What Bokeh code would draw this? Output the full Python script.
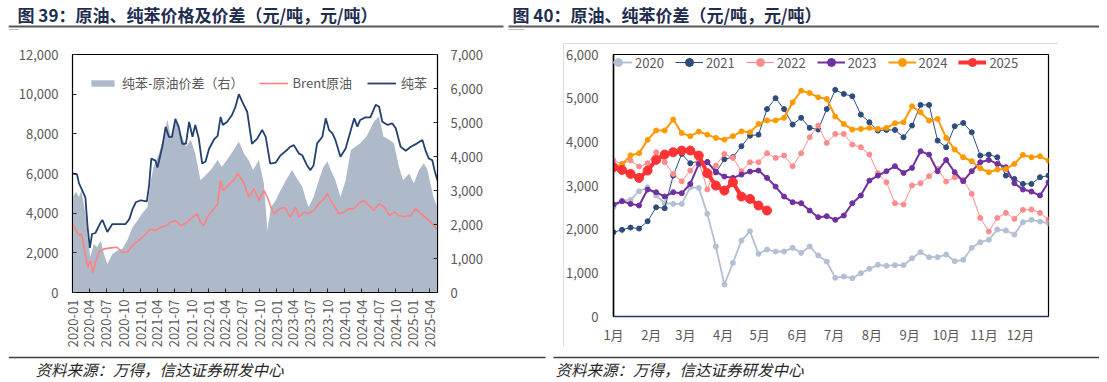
import math
import pandas as pd
from bokeh.plotting import figure
from bokeh.models import (Range1d, LinearAxis, FixedTicker, NumeralTickFormatter,
                          DatetimeTickFormatter, Legend, LegendItem, CustomJSTickFormatter, Spacer)
from bokeh.layouts import column, row
from bokeh.core.properties import value
from bokeh.embed import file_html
from bokeh.resources import INLINE

FONT = "Noto Sans CJK SC"
GREY = "#595959"
TITLE_COLOR = "#1F2D4F"

# ---------------- Left chart data ----------------
bz_dates = ["2020-01-02", "2020-01-25", "2020-02-05", "2020-02-15", "2020-03-10", "2020-03-22", "2020-04-03",
            "2020-04-15", "2020-05-03", "2020-06-01", "2020-06-10", "2020-07-06", "2020-08-02", "2020-10-12",
            "2020-11-01", "2020-11-18", "2020-12-06", "2021-01-01", "2021-02-03", "2021-02-15", "2021-02-27",
            "2021-03-21", "2021-04-01", "2021-04-27", "2021-05-15", "2021-06-01", "2021-06-18", "2021-07-06",
            "2021-07-24", "2021-08-12", "2021-09-01", "2021-09-18", "2021-10-06", "2021-10-21", "2021-11-09",
            "2021-11-27", "2021-12-15", "2022-01-03", "2022-02-01", "2022-02-18", "2022-03-06", "2022-03-18",
            "2022-04-09", "2022-05-06", "2022-05-24", "2022-06-12", "2022-07-01", "2022-07-27", "2022-08-21",
            "2022-09-18", "2022-10-15", "2022-11-03", "2022-11-27", "2022-12-27", "2023-01-20", "2023-02-27",
            "2023-03-15", "2023-04-03", "2023-05-01", "2023-05-18", "2023-06-12", "2023-07-01", "2023-07-18",
            "2023-08-06", "2023-09-03", "2023-09-21", "2023-10-09", "2023-10-27", "2023-11-12", "2023-12-09",
            "2024-01-06", "2024-02-03", "2024-02-21", "2024-03-09", "2024-03-24", "2024-04-21", "2024-05-18",
            "2024-06-15", "2024-07-03", "2024-07-21", "2024-08-18", "2024-09-12", "2024-10-01", "2024-10-27",
            "2024-11-24", "2024-12-21", "2025-01-24", "2025-02-21", "2025-03-09", "2025-03-27", "2025-04-15",
            "2025-04-27", "2025-05-12"]
bz_vals = [6000, 5950, 5500, 5300, 4800, 3300, 2250, 2950, 3000, 3550, 3650, 3050, 3450, 3450, 3700, 4200, 4550,
           4650, 4600, 5400, 6750, 6650, 6300, 7350, 8350, 7850, 7850, 8750, 8350, 7500, 7500, 8600, 7850, 8450,
           7750, 6500, 6600, 7250, 7750, 7900, 8850, 8450, 8600, 8950, 9350, 10000, 9600, 9100, 7500, 7750, 8200,
           7850, 6500, 6550, 6900, 7200, 7350, 7430, 7000, 6920, 6420, 6170, 6420, 7520, 7850, 8780, 8190, 8020,
           7690, 6840, 7260, 8190, 8780, 8360, 8700, 8830, 8830, 9460, 9380, 8610, 8450, 8530, 8280, 7350, 7150,
           7350, 7520, 7690, 7180, 6760, 6670, 6170, 5660]

br_dates = ["2020-01-02", "2020-01-20", "2020-02-07", "2020-02-18", "2020-03-10", "2020-03-23", "2020-04-06",
            "2020-04-20", "2020-05-03", "2020-05-21", "2020-06-18", "2020-07-24", "2020-08-27", "2020-09-24",
            "2020-10-21", "2020-11-09", "2020-12-06", "2021-01-01", "2021-01-27", "2021-02-24", "2021-03-21",
            "2021-04-18", "2021-05-15", "2021-06-12", "2021-07-06", "2021-08-03", "2021-09-09", "2021-10-06",
            "2021-11-01", "2021-11-18", "2021-12-06", "2021-12-24", "2022-01-21", "2022-02-18", "2022-03-06",
            "2022-03-18", "2022-04-09", "2022-04-24", "2022-05-15", "2022-06-06", "2022-07-01", "2022-07-15",
            "2022-08-03", "2022-09-01", "2022-09-27", "2022-10-24", "2022-11-12", "2022-12-01", "2022-12-18",
            "2023-01-15", "2023-02-12", "2023-03-15", "2023-04-12", "2023-05-01", "2023-05-27", "2023-06-21",
            "2023-07-18", "2023-08-15", "2023-09-12", "2023-10-01", "2023-10-18", "2023-11-03", "2023-12-01",
            "2023-12-27", "2024-01-24", "2024-02-21", "2024-03-15", "2024-04-12", "2024-05-09", "2024-06-06",
            "2024-07-03", "2024-08-01", "2024-08-27", "2024-09-24", "2024-10-18", "2024-11-15", "2024-12-21",
            "2025-01-15", "2025-02-12", "2025-03-09", "2025-03-27", "2025-04-15", "2025-05-12"]
br_vals = [3460, 3120, 2870, 2950, 1940, 1260, 1600, 1010, 1520, 2030, 2200, 2250, 2280, 2030, 2030, 2280, 2530,
           2700, 2950, 3200, 3120, 3290, 3370, 3540, 3630, 3370, 3540, 3800, 3970, 3540, 3370, 3800, 4140, 4480,
           5650, 5150, 5320, 5490, 5650, 6000, 5650, 5320, 4810, 5230, 4640, 5150, 4810, 4300, 3970, 4220, 4300,
           3800, 4300, 3800, 4050, 3970, 4140, 4480, 4730, 4980, 4640, 4390, 3970, 4050, 4220, 4220, 4480, 4640,
           4390, 4140, 4480, 4300, 3880, 4050, 3880, 3830, 3880, 4220, 3970, 3800, 3630, 3460, 3200]

sp_dates = ["2020-01-02", "2020-01-20", "2020-02-05", "2020-02-18", "2020-03-10", "2020-03-24", "2020-04-06",
            "2020-04-24", "2020-05-12", "2020-06-01", "2020-06-18", "2020-07-06", "2020-08-02", "2020-08-27",
            "2020-09-24", "2020-10-21", "2020-11-18", "2020-12-15", "2021-01-09", "2021-02-06", "2021-02-24",
            "2021-03-12", "2021-04-09", "2021-05-06", "2021-05-24", "2021-06-12", "2021-07-06", "2021-08-03",
            "2021-09-01", "2021-09-27", "2021-10-21", "2021-11-18", "2021-12-06", "2022-01-12", "2022-02-18",
            "2022-03-12", "2022-04-09", "2022-05-15", "2022-06-12", "2022-07-09", "2022-08-03", "2022-08-27",
            "2022-09-27", "2022-10-24", "2022-11-12", "2022-12-01", "2022-12-27", "2023-01-21", "2023-02-20",
            "2023-03-24", "2023-04-15", "2023-05-18", "2023-06-03", "2023-06-21", "2023-07-18", "2023-08-15",
            "2023-09-09", "2023-10-01", "2023-10-18", "2023-11-12", "2023-12-09", "2024-01-06", "2024-02-03",
            "2024-02-27", "2024-03-24", "2024-04-27", "2024-06-06", "2024-07-03", "2024-07-27", "2024-08-27",
            "2024-09-21", "2024-10-18", "2024-11-09", "2024-12-12", "2025-01-06", "2025-02-03", "2025-03-01",
            "2025-03-20", "2025-04-21", "2025-05-12"]
sp_vals = [2810, 2960, 2810, 3010, 2320, 1530, 1040, 1430, 1330, 1530, 1130, 840, 1130, 1230, 1280, 1530, 1920,
           2120, 2320, 2510, 3300, 3700, 4090, 4590, 5080, 4590, 5080, 4680, 4290, 4490, 4090, 3300, 3400, 3600,
           3900, 3700, 3900, 4190, 4440, 4090, 3900, 3600, 3900, 3210, 1820, 2510, 2710, 3000, 3300, 3600, 3400,
           3110, 2810, 2510, 2810, 3300, 3700, 3850, 3600, 3300, 2810, 3300, 4190, 4290, 4390, 4590, 5030, 5180,
           4590, 4490, 4390, 3700, 3300, 3500, 3210, 3600, 3800, 3600, 2810, 2510]

left_labels = ["纯苯-原油价差（右）", "Brent原油", "纯苯"]

# ---------------- Right chart data ----------------
weeks = list(range(1, 53))
years = ["2020", "2021", "2022", "2023", "2024", "2025"]
y2020 = [2503, 2655, 2670, 2869, 2960, 2770, 2594, 2579, 2579, 2960, 2945, 2350, 1602, 732, 1228, 1740, 1953,
         1434, 1534, 1488, 1488, 1572, 1457, 1602, 1396, 1259, 885, 916, 877, 992, 1091, 1183, 1160, 1175, 1175,
         1335, 1473, 1358, 1358, 1419, 1267, 1297, 1572, 1701, 1755, 1991, 1969, 1877, 2159, 2213, 2175, 2136]
y2021 = [1930, 1984, 2037, 2014, 2182, 2500, 2480, 3227, 3723, 3510, 3556, 3540, 3300, 3600, 3650, 3900, 4140,
         4165, 4750, 5000, 4750, 4395, 4550, 4320, 4280, 4750, 5190, 5097, 5043, 4624, 4448, 4258, 4273, 4273,
         4105, 4372, 4845, 4845, 4028, 3876, 4357, 4433, 4219, 3685, 3708, 3647, 3227, 3151, 3037, 3037, 3189, 3227]
y2022 = [3571, 3495, 3571, 3434, 3510, 3762, 3533, 3266, 3098, 3342, 3556, 2907, 3456, 3723, 3632, 3327, 3533,
         3533, 3739, 3632, 3685, 3441, 3739, 4105, 4372, 3975, 4181, 4181, 3937, 3876, 3708, 3281, 3075, 2594,
         2564, 2999, 3052, 3212, 3380, 3090, 3189, 3128, 2808, 2258, 1946, 2258, 2373, 2236, 2442, 2449, 2373, 2220]
y2023 = [2564, 2640, 2579, 2541, 2907, 2846, 2747, 2846, 2823, 3037, 3495, 3533, 3319, 3205, 3174, 3250, 3319,
         3342, 3174, 2976, 2747, 2617, 2594, 2426, 2274, 2297, 2213, 2312, 2594, 2770, 3113, 3227, 3327, 3441,
         3289, 3403, 3785, 3708, 3327, 3586, 3304, 3098, 3327, 3533, 3586, 3495, 3418, 3052, 2907, 2861, 2770, 3075]
y2024 = [3420, 3480, 3690, 3740, 4045, 4260, 4260, 4510, 4200, 4130, 4235, 4165, 4090, 4050, 4130, 4240, 4220,
         4410, 4490, 4490, 4550, 4905, 5170, 5120, 5020, 4980, 4580, 4410, 4280, 4296, 4319, 4296, 4319, 4425,
         4448, 4815, 4677, 4486, 4525, 4090, 3823, 3647, 3556, 3395, 3304, 3365, 3380, 3495, 3700, 3647, 3670, 3571]
y2025 = [3418, 3357, 3266, 3174, 3342, 3586, 3708, 3762, 3800, 3800, 3685, 3281, 2999, 2884, 3075, 2747, 2693,
         2541, 2426]
month_labels = ["1月", "2月", "3月", "4月", "5月", "6月", "7月", "8月", "9月", "10月", "11月", "12月"]

# ================= Left chart =================
L = figure(frame_width=365, frame_height=238, x_axis_type="datetime",
           x_range=Range1d(pd.Timestamp("2020-01-01"), pd.Timestamp("2025-05-13")),
           y_range=Range1d(0, 12000), output_backend="svg", toolbar_location=None,
           min_border_left=64, min_border_right=113, min_border_top=11, min_border_bottom=58)
L.extra_y_ranges = {"right": Range1d(0, 7000)}
L.grid.visible = False
L.outline_line_color = "black"
L.outline_line_width = 1.2

area = L.varea(x=pd.to_datetime(sp_dates), y1=0, y2=sp_vals, y_range_name="right",
               fill_color="#AEB9CA", fill_alpha=1)
brent = L.line(pd.to_datetime(br_dates), br_vals, line_color="#FF8080", line_width=1.6)
bz = L.line(pd.to_datetime(bz_dates), bz_vals, line_color="#24406E", line_width=1.8)

qticks = [int(t.value // 10**6) for t in pd.date_range("2020-01-01", "2025-04-01", freq="QS")]
xa = L.xaxis[0]
xa.ticker = FixedTicker(ticks=qticks)
xa.formatter = DatetimeTickFormatter(days="%Y-%m", months="%Y-%m", years="%Y-%m",
                                     hours="%Y-%m", minutes="%Y-%m", seconds="%Y-%m",
                                     milliseconds="%Y-%m", microseconds="%Y-%m", hourmin="%Y-%m",
                                     minsec="%Y-%m")
xa.major_label_orientation = math.pi / 2
xa.major_label_standoff = 7
xa.axis_line_color = "black"

ya = L.yaxis[0]
ya.ticker = FixedTicker(ticks=list(range(0, 12001, 2000)))
ya.formatter = NumeralTickFormatter(format="0,0")
ya.major_label_standoff = 14
ya.axis_line_color = "black"

ra = LinearAxis(y_range_name="right", ticker=FixedTicker(ticks=list(range(0, 7001, 1000))),
                formatter=NumeralTickFormatter(format="0,0"))
ra.major_label_standoff = 13
ra.axis_line_color = "black"
L.add_layout(ra, "right")

for ax in [xa, ya, ra]:
    ax.major_tick_in = 4
    ax.major_tick_out = 0
    ax.minor_tick_line_color = None
    ax.major_tick_line_color = "#262626"
    ax.major_label_text_font = FONT
    ax.major_label_text_font_size = "13px"
    ax.major_label_text_color = GREY

legL = Legend(items=[LegendItem(label=left_labels[0], renderers=[area]),
                     LegendItem(label=left_labels[1], renderers=[brent]),
                     LegendItem(label=left_labels[2], renderers=[bz])],
              orientation="horizontal", location=(16, 200), glyph_width=29, glyph_height=8,
              label_standoff=5, spacing=15, padding=0, margin=0, label_height=14,
              label_text_font=FONT, label_text_font_size="13px", label_text_color=GREY,
              border_line_color=None, background_fill_alpha=0)
L.add_layout(legL)

# ================= Right chart =================
R = figure(frame_width=435, frame_height=262, x_range=Range1d(1, 52), y_range=Range1d(0, 6000),
           output_backend="svg", toolbar_location=None,
           min_border_left=49, min_border_right=10, min_border_top=11, min_border_bottom=24)
R.grid.visible = False
R.outline_line_color = "black"
R.outline_line_width = 1.2
R.styles = {"outline": "1px solid #D0D0D0", "outline-offset": "-1px"}

series = [y2020, y2021, y2022, y2023, y2024, y2025]
colors = ["#B3C0D3", "#2E4C7C", "#FF8C8C", "#7030A0", "#FF9900", "#FF3333"]
widths = [1.8, 1.0, 1.0, 2.0, 2.0, 4.0]
sizes = [5, 5, 5, 5, 5, 9]
items = []
for name, vals, c, w, s in zip(years, series, colors, widths, sizes):
    xs = weeks[:len(vals)]
    ln = R.line(xs, vals, line_color=c, line_width=w)
    sc = R.scatter(xs, vals, size=s, fill_color=c, line_color=c, marker="circle")
    items.append(LegendItem(label=name, renderers=[ln, sc]))

month_pos = [1 + (pd.Timestamp(2021, m, 1).dayofyear - 1) / 7 for m in range(1, 13)]
rx = R.xaxis[0]
rx.ticker = FixedTicker(ticks=month_pos)
rx.formatter = CustomJSTickFormatter(args=dict(labels=month_labels), code="return labels[index] ?? '';")
rx.major_label_standoff = 8
rx.axis_line_color = "#1F3864"
rx.axis_line_width = 1.5

ry = R.yaxis[0]
ry.ticker = FixedTicker(ticks=list(range(0, 6001, 1000)))
ry.formatter = NumeralTickFormatter(format="0,0")
ry.major_label_standoff = 15
ry.axis_line_color = "black"
ry.axis_line_width = 1.5

for ax in [rx, ry]:
    ax.major_tick_in = 0
    ax.major_tick_out = 0
    ax.minor_tick_line_color = None
    ax.major_label_text_font = FONT
    ax.major_label_text_font_size = "13px"
    ax.major_label_text_color = GREY

legR = Legend(items=items, orientation="horizontal", location=(-9, 244), glyph_width=28,
              label_standoff=3, spacing=11, padding=0, margin=0, label_height=14,
              label_text_font=FONT, label_text_font_size="13px", label_text_color=GREY,
              border_line_color=None, background_fill_alpha=0)
R.add_layout(legR)

# ================= Header / Footer =================
titles = ["图 39：原油、纯苯价格及价差（元/吨，元/吨）", "图 40：原油、纯苯价差（元/吨，元/吨）"]
sources = ["资料来源：万得，信达证券研发中心", "资料来源：万得，信达证券研发中心"]

H = figure(width=1091, height=43, x_range=Range1d(8, 1099), y_range=Range1d(43, 0),
           output_backend="svg", toolbar_location=None, min_border=0,
           x_axis_type=None, y_axis_type=None)
H.outline_line_color = None
H.grid.visible = False
H.text(x=[17, 512], y=[14, 14], text=titles, text_font=value(FONT), text_font_style="bold",
       text_font_size="17px", text_color=TITLE_COLOR, text_baseline="middle")
H.segment(x0=[8, 508], y0=[26, 26], x1=[503, 1099], y1=[26, 26], line_color="#595959", line_width=2)
H.segment(x0=[8, 508], y0=[29, 29], x1=[18, 524], y1=[29, 29], line_color="#BFBFBF", line_width=1)

F = figure(width=1091, height=30, x_range=Range1d(8, 1099), y_range=Range1d(380, 350),
           output_backend="svg", toolbar_location=None, min_border=0,
           x_axis_type=None, y_axis_type=None)
F.outline_line_color = None
F.grid.visible = False
F.segment(x0=[8, 553], y0=[357, 357], x1=[545, 1099], y1=[357, 357], line_color="#404040", line_width=1.5)
F.text(x=[35, 555], y=[368, 368], text=sources, text_font=value(FONT), text_font_style="italic",
       text_font_size="15.5px", text_color="#262626", text_baseline="middle")

body = column(H, row(L, Spacer(width=13, height=10), R), F)
layout = row(Spacer(width=8, height=10), body)
open("out.html", "w").write(file_html(layout, INLINE))
